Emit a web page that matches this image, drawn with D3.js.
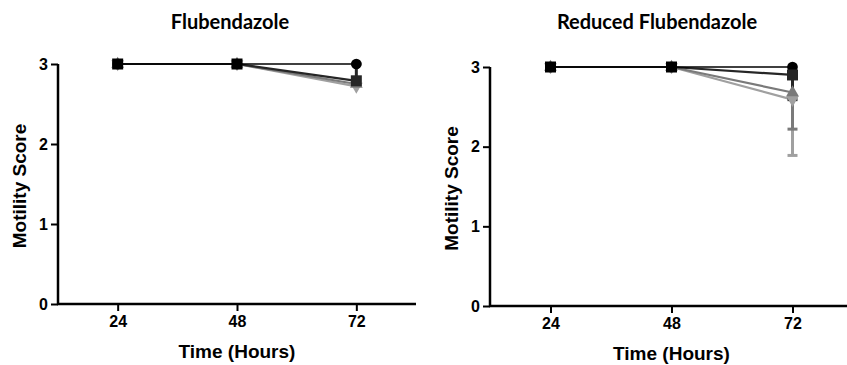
<!DOCTYPE html>
<html><head><meta charset="utf-8">
<script src="https://cdn.jsdelivr.net/npm/d3@7/dist/d3.min.js"></script>
<style>body{margin:0;background:#fff}svg{display:block}</style>
</head><body>
<svg id="c" width="847" height="365"></svg>
<script>
const hours = [24, 48, 72];
const yTicks = [0, 1, 2, 3];
const xTicks = [24, 48, 72];
const seriesNames = ["A", "B", "C", "D"];
const seriesColors = ["#000000", "#262626", "#7a7a7a", "#a0a0a0"];
const seriesShapes = ["circle", "square", "triangle", "triangleDown"];

// Flubendazole panel
const fluValues = [[3, 3, 3], [3, 3, 2.79], [3, 3, 2.75], [3, 3, 2.72]];
const fluErrLow = [[0, 0, 0], [0, 0, 0], [0, 0, 0], [0, 0, 0]];
const fluErrHigh = [[0, 0, 0], [0, 0, 0.21], [0, 0, 0], [0, 0, 0]];
// Reduced Flubendazole panel
const redValues = [[3, 3, 3], [3, 3, 2.9], [3, 3, 2.68], [3, 3, 2.59]];
const redErrLow = [[0, 0, 0], [0, 0, 0.31], [0, 0, 0.46], [0, 0, 0.7]];
const redErrHigh = [[0, 0, 0], [0, 0, 0], [0, 0, 0], [0, 0, 0]];

const panels = [
  {title: "Flubendazole", values: fluValues, lo: fluErrLow, hi: fluErrHigh,
   x0: 58, x1: 416, y0: 304, y1: 64, titleX: 230},
  {title: "Reduced Flubendazole", values: redValues, lo: redErrLow, hi: redErrHigh,
   x0: 490, x1: 853, y0: 306, y1: 67, titleX: 657}
];

const svg = d3.select("#c");
const font = "'Liberation Sans', Arial, sans-serif";

panels.forEach(p => {
  const x = d3.scaleLinear().domain([12, 84]).range([p.x0, p.x1]);
  const y = d3.scaleLinear().domain([0, 3]).range([p.y0, p.y1]);
  const g = svg.append("g");

  g.append("text").attr("x", p.titleX).attr("y", 29).attr("text-anchor", "middle")
    .style("font-family", "Lato, 'Open Sans', sans-serif").style("font-weight", "bold")
    .style("font-size", "20px").text(p.title);

  const xa = g.append("g").attr("transform", `translate(0,${p.y0})`)
    .call(d3.axisBottom(x).tickValues(xTicks).tickFormat(d3.format("d")).tickSize(7).tickPadding(5).tickSizeOuter(0));
  const ya = g.append("g").attr("transform", `translate(${p.x0},0)`)
    .call(d3.axisLeft(y).tickValues(yTicks).tickFormat(d3.format("d")).tickSize(7).tickPadding(3).tickSizeOuter(0));
  [xa, ya].forEach(a => {
    a.select(".domain").attr("stroke", "#000").attr("stroke-width", 2.5);
    a.selectAll(".tick line").attr("stroke", "#000").attr("stroke-width", 2);
    a.selectAll(".tick text").style("font-family", font)
      .style("font-weight", "bold").style("font-size", "16px").attr("fill", "#000");
  });
  xa.select(".domain").attr("d", `M${p.x0 - 1},0H${p.x1}`);
  ya.select(".domain").attr("d", `M0,${p.y1}V${p.y0}`);

  g.append("text").attr("x", x(48)).attr("y", p.y0 + 54).attr("text-anchor", "middle")
    .style("font-family", font).style("font-weight", "bold")
    .style("font-size", "19px").text("Time (Hours)");
  g.append("text").attr("transform", `translate(${p.x0 - 32},${(p.y0 + p.y1) / 2 + 2}) rotate(-90)`)
    .attr("text-anchor", "middle")
    .style("font-family", font).style("font-weight", "bold")
    .style("font-size", "19px").text("Motility Score");

  const line = d3.line().x((d, i) => x(hours[i])).y(d => y(d));
  [3, 2, 1, 0].forEach(s => {
    g.append("path").attr("d", line(p.values[s])).attr("fill", "none")
      .attr("stroke", seriesColors[s]).attr("stroke-width", s === 0 ? 1.6 : 2.2);
  });
  // error bars
  [3, 2, 1, 0].forEach(s => {
    p.values[s].forEach((v, i) => {
      const lo = v - p.lo[s][i], hi = v + p.hi[s][i];
      if (lo === hi) return;
      const cx = x(hours[i]);
      g.append("line").attr("x1", cx).attr("x2", cx).attr("y1", y(lo)).attr("y2", y(hi))
        .attr("stroke", seriesColors[s]).attr("stroke-width", 3);
      [lo, hi].forEach(e => {
        if (e === v) return;
        g.append("line").attr("x1", cx - 5).attr("x2", cx + 5).attr("y1", y(e)).attr("y2", y(e))
          .attr("stroke", seriesColors[s]).attr("stroke-width", 3);
      });
    });
  });
  const sym = {circle: d3.symbolCircle, square: d3.symbolSquare,
               triangle: d3.symbolTriangle, triangleDown: d3.symbolTriangle};
  [3, 2, 0, 1].forEach(s => {
    p.values[s].forEach((v, i) => {
      const shape = seriesShapes[s];
      const size = shape === "circle" ? 90 : shape === "square" ? 121 : 70;
      const col = (shape === "square" && i < 2) ? "#000" : seriesColors[s];
      g.append("path").attr("d", d3.symbol().type(sym[shape]).size(size)())
        .attr("transform", `translate(${x(hours[i])},${y(v)})` + (shape === "triangleDown" ? " rotate(180)" : ""))
        .attr("fill", col);
    });
  });
});
</script>
</body></html>
